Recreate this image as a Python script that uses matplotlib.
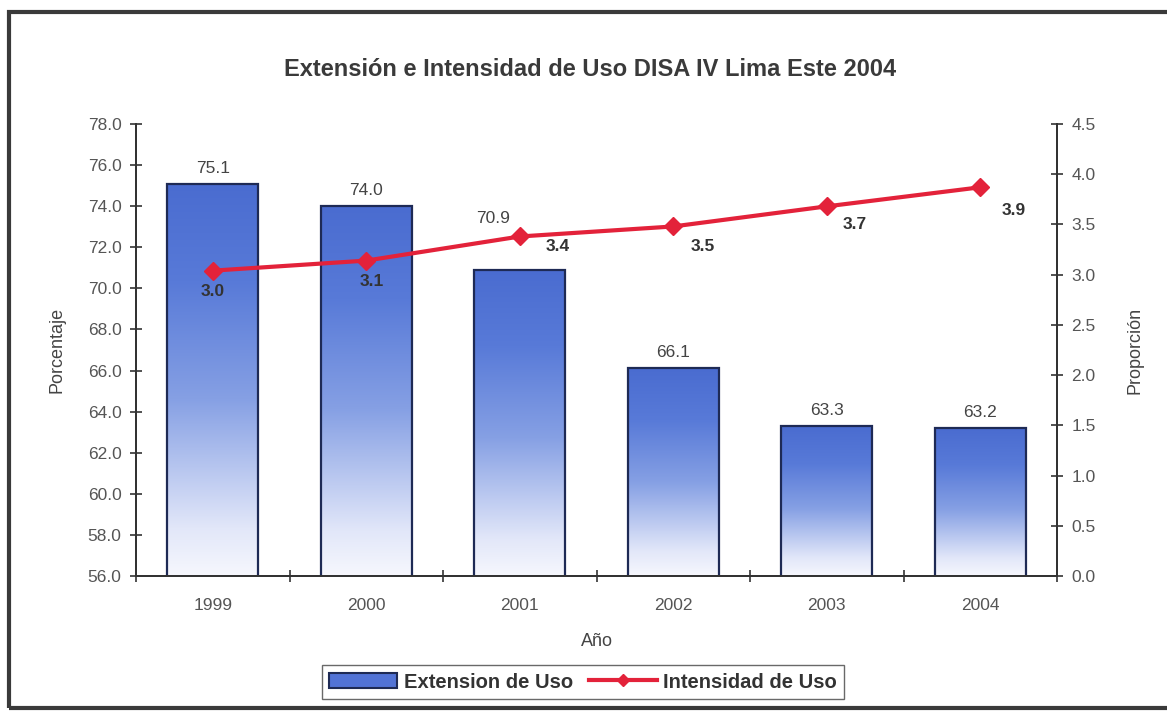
import matplotlib.pyplot as plt
import numpy as np
from matplotlib.patches import Rectangle
from matplotlib.lines import Line2D
from matplotlib.colors import LinearSegmentedColormap

plt.rcParams['font.family'] = ['Liberation Sans', 'DejaVu Sans']

anios = ['1999', '2000', '2001', '2002', '2003', '2004']
extension = [75.1, 74.0, 70.9, 66.1, 63.3, 63.2]
intensidad = [3.04, 3.14, 3.38, 3.48, 3.68, 3.87]

# desplazamiento (px) de cada etiqueta respecto a su barra / punto
desp_ext = [(0, 8), (0, 8), (-27, 44), (0, 8), (0, 8), (0, 8)]
desp_int = [(0, -21), (6, -21), (38, -10), (30, -20), (28, -18), (33, -23)]

W, H = 1167, 712
fig = plt.figure(figsize=(W / 100, H / 100), dpi=100)
ax = fig.add_axes([136 / W, 1 - 576 / H, (1057 - 136) / W, (576 - 124) / H])
ax2 = ax.twinx()

gris = '#555555'
azul_borde = '#1e2a55'
degradado = LinearSegmentedColormap.from_list(
    'barra', [(0.0, '#f6f7fd'), (0.12, '#e2e7f9'), (0.45, '#86a0e4'),
              (0.75, '#587ad8'), (1.0, '#4a6cd0')])

x = np.arange(len(anios))
ancho = 0.59
ymin, ymax = 56.0, 78.0
bars = ax.bar(x, extension, width=ancho, bottom=0, color='none',
              edgecolor=azul_borde, linewidth=1.6, zorder=3)

# relleno en degradado dentro de cada barra
grad = np.linspace(0, 1, 256).reshape(-1, 1)
for b, (dx, dy) in zip(bars, desp_ext):
    x0 = b.get_x()
    top = b.get_height()
    im = ax.imshow(grad, extent=[x0, x0 + ancho, ymin, top], origin='lower',
                   cmap=degradado, aspect='auto', zorder=2)
    im.set_clip_path(b)
    ax.annotate(f'{top:.1f}', (b.get_x() + ancho / 2, top),
                xytext=(dx * 0.72, dy * 0.72), textcoords='offset points',
                ha='center', va='bottom', fontsize=12.5, color='#444444', zorder=5)

ax.set_xlim(-0.5, len(anios) - 0.5)
ax.set_ylim(ymin, ymax)
ax.set_yticks(np.arange(56, 78.1, 2))
ax.set_yticklabels([f'{v:.1f}' for v in np.arange(56, 78.1, 2)])
ax.set_xticks(x)
ax.set_xticklabels(anios)
ax.set_xticks(np.arange(-0.5, len(anios)), minor=True)
ax.tick_params(axis='x', which='major', length=0, pad=16, labelsize=12.5, labelcolor=gris)
ax.tick_params(axis='x', which='minor', direction='inout', length=8, width=1.2, color='#333333')
ax.tick_params(axis='y', direction='inout', length=9, width=1.2, color='#333333',
               labelsize=12.5, labelcolor=gris, pad=6)

ax2.plot(x, intensidad, color='#e3223a', linewidth=3, marker='D', markersize=9,
         markeredgecolor='#e3223a', zorder=6)
for xi, v, (dx, dy) in zip(x, intensidad, desp_int):
    ax2.annotate(f'{v:.1f}', (xi, v), xytext=(dx * 0.72, dy * 0.72),
                 textcoords='offset points', ha='center', va='center',
                 fontsize=12.5, fontweight='bold', color='#333333', zorder=7)
ax2.set_ylim(0, 4.5)
ax2.set_yticks(np.arange(0, 4.51, 0.5))
ax2.set_yticklabels([f'{v:.1f}' for v in np.arange(0, 4.51, 0.5)])
ax2.tick_params(axis='y', direction='inout', length=9, width=1.2, color='#333333',
                labelsize=12.5, labelcolor=gris, pad=6)

ax.set_zorder(ax2.get_zorder() - 1)
ax2.patch.set_visible(False)
ax.patch.set_visible(False)

for a in (ax, ax2):
    a.spines['top'].set_visible(False)
    for s in ('left', 'right', 'bottom'):
        a.spines[s].set_color('#333333')
        a.spines[s].set_linewidth(1.4)

ax.set_ylabel('Porcentaje', fontsize=13, color='#444444', labelpad=16)
ax2.set_ylabel('Proporción', fontsize=13, color='#444444', labelpad=22)
ax.set_xlabel('Año', fontsize=13, color='#444444', labelpad=14)

fig.text(0.506, 1 - 70 / H, 'Extensión e Intensidad de Uso DISA IV Lima Este 2004',
         ha='center', va='center', fontsize=17, fontweight='bold', color='#3a3a3a')

h_bar = Rectangle((0, 0), 1, 1, facecolor='#5273d6', edgecolor=azul_borde, linewidth=1.5)
h_lin = Line2D([], [], color='#e3223a', linewidth=3, marker='D', markersize=6)
fig.legend([h_bar, h_lin], ['Extension de Uso', 'Intensidad de Uso'],
           loc='center', bbox_to_anchor=(583 / W, 1 - 682 / H), ncol=2,
           prop={'weight': 'bold', 'size': 14.5}, frameon=True, labelcolor='#333333',
           fancybox=False, edgecolor='#444444', handlelength=3.4,
           handletextpad=0.3, columnspacing=0.8, borderpad=0.35)

# marco exterior del gráfico
fig.add_artist(Rectangle((9 / W, 4 / H), 1.2, 1 - 16 / H, transform=fig.transFigure,
                         fill=False, edgecolor='#3a3a3a', linewidth=3, clip_on=False))

fig.savefig('out.png', dpi=100)
